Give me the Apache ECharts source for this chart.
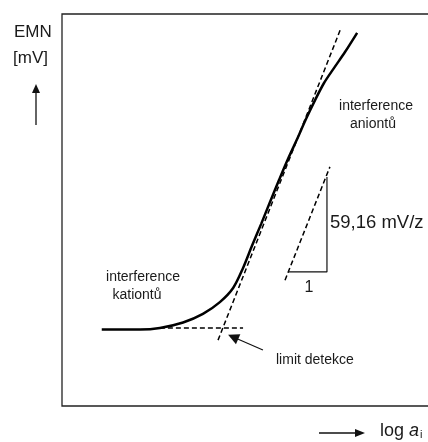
<!DOCTYPE html>
<html>
<head>
<meta charset="utf-8">
<script src="https://cdn.jsdelivr.net/npm/echarts@6/dist/echarts.min.js"></script>
<style>
html, body { margin: 0; padding: 0; background: #fff; }
#chart { width: 428px; height: 442px; }
</style>
</head>
<body>
<div id="chart"></div>
<script>
// electrode response curve, arbitrary units (log a on x, EMN on y)
var curveX = [1.08, 2.12, 2.66, 3.29, 3.83, 4.29, 4.65, 4.92, 5.16, 5.41, 5.65, 5.90, 6.14, 6.39, 6.63, 6.88, 7.12, 7.39, 7.69, 8.02];
var curveY = [1.95, 1.95, 1.99, 2.13, 2.35, 2.65, 3.01, 3.52, 4.08, 4.64, 5.20, 5.77, 6.30, 6.81, 7.32, 7.81, 8.24, 8.62, 9.03, 9.52];

// nernst tangent and baseline extrapolation
var tangentX = [4.24, 7.58];
var tangentY = [1.68, 9.64];
var baseX = [2.66, 4.92];
var baseY = [1.99, 1.99];

// slope triangle
var slopeX = [6.06, 7.28];
var slopeY = [3.21, 6.10];
var legX = [6.14, 7.20, 7.20];
var legY = [3.42, 3.42, 5.84];

// arrow pointing at detection limit
var limitArrow = [[5.46, 1.43], [4.65, 1.76]];

function zip(xs, ys) {
    var out = [];
    for (var i = 0; i < xs.length; i++) out.push([xs[i], ys[i]]);
    return out;
}

var font = '"Liberation Sans", Arial, sans-serif';
var txt = '#1a1a1a';
var dashed = { color: '#000', width: 1.5, type: [5, 3] };

var myChart = echarts.init(document.getElementById('chart'));
var option = {
    animation: false,
    grid: {
        show: true,
        left: 62,
        top: 14,
        width: 368,
        height: 392,
        outerBoundsMode: 'none',
        borderColor: '#222',
        borderWidth: 1.3,
        backgroundColor: '#fff'
    },
    xAxis: { type: 'value', min: 0, max: 10, show: false },
    yAxis: { type: 'value', min: 0, max: 10, show: false },
    series: [
        {
            name: 'EMN',
            type: 'line',
            data: zip(curveX, curveY),
            smooth: 0.3,
            showSymbol: false,
            lineStyle: { color: '#000', width: 2.5 }
        },
        { type: 'line', data: zip(tangentX, tangentY), showSymbol: false, lineStyle: dashed },
        { type: 'line', data: zip(baseX, baseY), showSymbol: false, lineStyle: dashed },
        { type: 'line', data: zip(slopeX, slopeY), showSymbol: false, lineStyle: dashed },
        {
            type: 'line',
            data: zip(legX, legY),
            showSymbol: false,
            lineStyle: { color: '#111', width: 1.2 }
        },
        {
            type: 'lines',
            coordinateSystem: 'cartesian2d',
            symbol: ['none', 'triangle'],
            symbolSize: [8, 11],
            lineStyle: { color: '#111', width: 1.2, opacity: 1 },
            data: [{ coords: limitArrow }]
        }
    ],
    graphic: [
        { type: 'text', left: 14, top: 24, style: { text: 'EMN', font: '17px ' + font, fill: txt } },
        { type: 'text', left: 13, top: 50, style: { text: '[mV]', font: '17px ' + font, fill: txt } },
        { type: 'line', shape: { x1: 36, y1: 125, x2: 36, y2: 90 }, style: { stroke: '#111', lineWidth: 1.3 } },
        { type: 'polygon', shape: { points: [[36, 84], [32, 93], [40, 93]] }, style: { fill: '#111' } },

        { type: 'line', shape: { x1: 319, y1: 433, x2: 356, y2: 433 }, style: { stroke: '#111', lineWidth: 1.3 } },
        { type: 'polygon', shape: { points: [[365, 433], [355, 429], [355, 437]] }, style: { fill: '#111' } },
        {
            type: 'text', left: 380, top: 422,
            style: {
                text: 'log {a|a}{s|i}',
                font: '18px ' + font, fill: txt,
                rich: {
                    a: { font: 'italic 18px ' + font, fill: txt },
                    s: { font: '11px ' + font, fill: txt, padding: [8, 0, 0, 1] }
                }
            }
        },

        { type: 'text', x: 376, y: 106, style: { text: 'interference', font: '14px ' + font, fill: txt, align: 'center', verticalAlign: 'middle' } },
        { type: 'text', x: 373, y: 124, style: { text: 'aniontů', font: '14px ' + font, fill: txt, align: 'center', verticalAlign: 'middle' } },
        { type: 'text', x: 143, y: 277, style: { text: 'interference', font: '14px ' + font, fill: txt, align: 'center', verticalAlign: 'middle' } },
        { type: 'text', x: 137, y: 295, style: { text: 'kationtů', font: '14px ' + font, fill: txt, align: 'center', verticalAlign: 'middle' } },
        { type: 'text', x: 276, y: 360, style: { text: 'limit detekce', font: '14px ' + font, fill: txt, align: 'left', verticalAlign: 'middle' } },
        { type: 'text', x: 330, y: 223, style: { text: '59,16 mV/z', font: '18.5px ' + font, fill: txt, align: 'left', verticalAlign: 'middle' } },
        { type: 'text', x: 309, y: 288, style: { text: '1', font: '16px ' + font, fill: txt, align: 'center', verticalAlign: 'middle' } }
    ]
};
myChart.setOption(option);
</script>
</body>
</html>
